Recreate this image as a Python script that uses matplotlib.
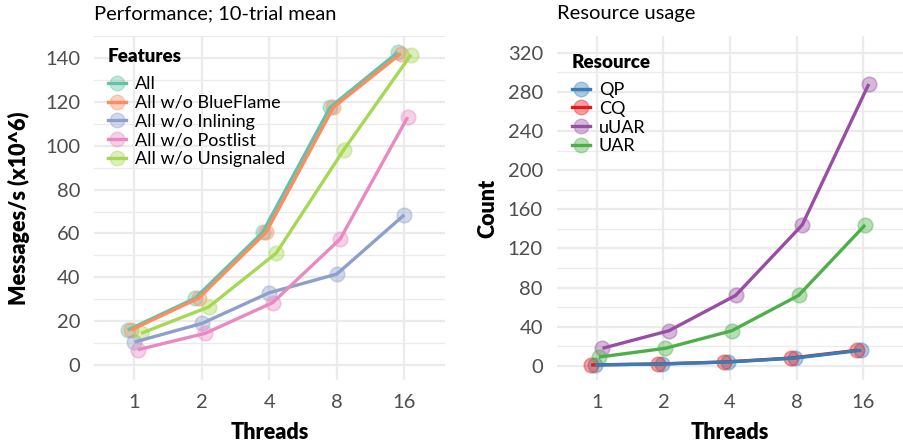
import numpy as np
import matplotlib
matplotlib.use('Agg')
import matplotlib.pyplot as plt
from matplotlib.lines import Line2D

plt.rcParams['font.family'] = ['Lato', 'DejaVu Sans']

# ---------------- data ----------------
threads = ['1', '2', '4', '8', '16']

features = ['All', 'All w/o BlueFlame', 'All w/o Inlining',
            'All w/o Postlist', 'All w/o Unsignaled']
perf_all = [16.0, 30.5, 60.5, 117.5, 142.5]
perf_no_blueflame = [16.0, 30.5, 60.5, 117.5, 142.0]
perf_no_inlining = [10.5, 19.0, 33.0, 41.5, 68.5]
perf_no_postlist = [7.0, 14.5, 28.5, 57.5, 113.0]
perf_no_unsignaled = [14.5, 26.5, 51.0, 98.0, 141.5]
perf = [perf_all, perf_no_blueflame, perf_no_inlining,
        perf_no_postlist, perf_no_unsignaled]
feature_colors = ['#66c2a5', '#fc8d62', '#8da0cb', '#e78ac3', '#a6d854']

resources = ['QP', 'CQ', 'uUAR', 'UAR']
res_qp = [1, 2, 4, 8, 16]
res_cq = [1, 2, 4, 8, 16]
res_uuar = [18, 36, 72, 144, 288]
res_uar = [9, 18, 36, 72, 144]
res = [res_qp, res_cq, res_uuar, res_uar]
resource_colors = ['#377eb8', '#e41a1c', '#984ea3', '#4daf4a']
# dodge follows sorted factor levels: CQ, QP, UAR, uUAR
res_dodge = [-0.025, -0.085, 0.085, 0.03]
feat_dodge = [-0.1, -0.05, 0.0, 0.05, 0.1]

GRID = '#EBEBEB'
TICK = '#4D4D4D'
FS_TICK = 14.5
FS_AXIS = 15.5


def style_axes(ax, ylim, major, minor):
    ax.set_xlim(0.4, 5.6)
    ax.set_ylim(*ylim)
    ax.set_xticks(range(1, 6))
    ax.set_xticklabels(threads)
    ax.set_yticks(major)
    ax.set_yticks(minor, minor=True)
    ax.grid(True, which='major', color=GRID, lw=1.6)
    ax.grid(True, which='minor', axis='y', color=GRID, lw=0.9)
    ax.set_axisbelow(True)
    for s in ax.spines.values():
        s.set_visible(False)
    ax.tick_params(which='both', length=0, labelsize=FS_TICK, colors=TICK, pad=10)
    ax.tick_params(axis='x', pad=10)
    ax.set_xlabel('Threads', fontsize=FS_AXIS, fontweight='heavy', labelpad=8)


def draw(ax, series, colors, dodge, point_order, line_order):
    x = np.arange(1, 6)
    for i in point_order:
        c = colors[i]
        ax.plot(x + dodge[i], series[i], 'o', ms=10.5, color=c, alpha=0.4,
                mec=c, mew=1.2, zorder=2)
    for i in line_order:
        ax.plot(x + dodge[i], series[i], '-', lw=2.4, color=colors[i],
                zorder=3, solid_capstyle='butt')


def legend(ax, labels, colors, title, x, y_title, y_items):
    ax.text(x, y_title, title, transform=ax.transAxes, fontsize=13.5,
            fontweight='heavy', ha='left', va='center')
    handles = [Line2D([], [], color=c, lw=2.4, marker='o', ms=10.5,
                      mfc=matplotlib.colors.to_rgba(c, 0.4),
                      mec=matplotlib.colors.to_rgba(c, 0.4))
               for c in colors]
    ax.legend(handles, labels, loc='upper left', bbox_to_anchor=(x, y_items),
              frameon=False, fontsize=13, handlelength=1.0,
              handletextpad=0.5, labelspacing=0.15, borderaxespad=0,
              borderpad=0)


fig = plt.figure(figsize=(9.04, 4.44), dpi=100)
ax1 = fig.add_axes([0.104, 0.1441, 0.388, 0.7748])
ax2 = fig.add_axes([0.616, 0.1441, 0.383, 0.7748])

draw(ax1, perf, feature_colors, feat_dodge, range(5), range(5))
style_axes(ax1, (-6.8, 149.5), np.arange(0, 141, 20), np.arange(10, 151, 20))
ax1.set_ylabel('Messages/s (x10^6)', fontsize=FS_AXIS, fontweight='heavy',
               labelpad=11)
ax1.set_title('Performance; 10-trial mean', loc='left', fontsize=14.5, pad=12)
legend(ax1, features, feature_colors, 'Features', 0.04, 0.939, 0.883)

draw(ax2, res, resource_colors, res_dodge, [0, 1, 2, 3], [1, 0, 2, 3])
style_axes(ax2, (-14.4, 337), np.arange(0, 321, 40), np.arange(20, 340, 40))
ax2.set_ylabel('Count', fontsize=FS_AXIS, fontweight='heavy', labelpad=7)
ax2.set_title('Resource usage', loc='left', fontsize=14.5, pad=12)
legend(ax2, resources, resource_colors, 'Resource', 0.043, 0.924, 0.866)

fig.savefig('out.png', dpi=100)
